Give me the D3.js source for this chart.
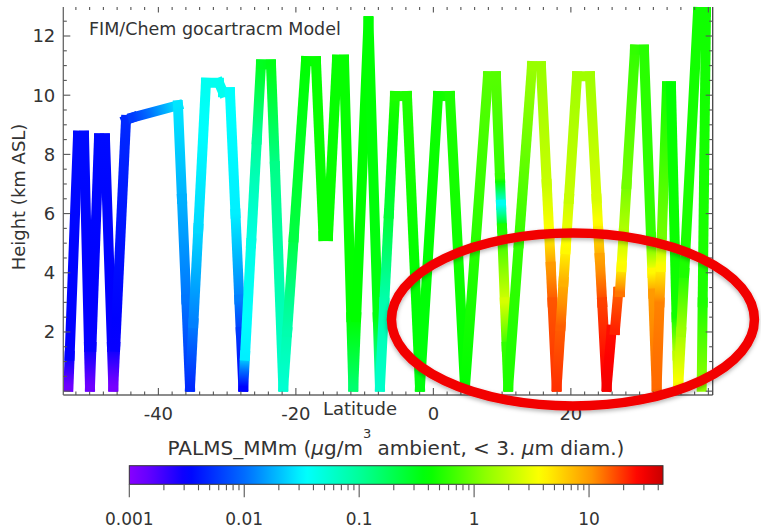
<!DOCTYPE html>
<html>
<head>
<meta charset="utf-8">
<script src="https://cdn.jsdelivr.net/npm/d3@7"></script>
<style>
  html, body { margin: 0; padding: 0; background: #fff; }
  svg { display: block; font-family: "DejaVu Sans", sans-serif; }
</style>
</head>
<body>
<svg id="chart" width="761" height="528"></svg>
<script>
// Flight-track samples: latitude (deg N), altitude (km ASL), modelled PALMS_MMm mass (µg/m3)
const latitude = [
  -53.08, -52.91, -51.69, -50.82, -50.09, -49.95, -49.74, -48.64, -47.77, -46.75,
  -46.56, -46.28, -44.71, -43.69, -37.15, -36.57, -35.94, -35.40, -34.91, -34.19,
  -33.08, -31.19, -30.60, -29.59, -28.79, -28.23, -28.01, -27.65, -27.40, -26.51,
  -25.68, -25.08, -23.62, -23.05, -21.83, -21.27, -20.31, -18.53, -17.08, -15.99,
  -15.33, -14.02, -13.00, -11.94, -11.65, -11.23, -9.44, -8.09, -7.77, -7.14,
  -6.47, -5.59, -3.84, -1.95, 0.67, 2.41, 4.60, 7.94, 9.10, 9.69,
  9.84, 9.99, 10.40, 10.66, 10.89, 12.43, 14.34, 15.65, 16.49, 16.85,
  17.08, 17.33, 17.93, 18.51, 18.93, 19.24, 19.72, 20.89, 22.78, 23.74,
  23.99, 24.20, 24.55, 25.21, 25.93, 26.41, 26.89, 27.14, 27.37, 27.69,
  28.11, 29.32, 30.63, 31.66, 31.85, 31.97, 32.48, 32.90, 33.08, 33.24,
  33.98, 34.56, 35.37, 35.51, 35.62, 36.04, 36.49, 38.49, 39.65, 39.17,
  39.03
];
const altitude = [
  0.15, 1.2, 8.63, 8.63, 1.5, 0.15, 1.5, 8.54, 8.54, 1.5,
  0.15, 1.5, 9.16, 9.25, 9.66, 6.5, 3.1, 0.15, 2.3, 5.5,
  10.42, 10.42, 10.10, 10.10, 6.0, 3.1, 2.0, 0.15, 1.2, 5.0,
  8.5, 11.04, 11.04, 7.6, 0.15, 2.0, 5.2, 11.15, 11.15, 5.24,
  5.24, 11.2, 11.2, 2.5, 0.15, 2.5, 12.5, 2.5, 0.15, 3.0,
  6.0, 9.97, 9.97, 0.15, 9.97, 9.97, 0.15, 10.64, 10.64, 7.2,
  6.3, 5.5, 3.0, 1.5, 0.15, 5.0, 10.98, 10.98, 7.0, 5.3,
  4.2, 3.0, 0.15, 2.2, 3.7, 4.8, 6.5, 10.64, 10.64, 6.5,
  5.4, 4.5, 3.0, 0.15, 2.07, 2.07, 3.35, 3.35, 4.2, 5.4,
  7.0, 11.54, 11.54, 5.2, 4.0, 3.3, 0.15, 3.0, 4.2, 5.3,
  10.3, 10.3, 2.5, 1.2, 0.15, 2.0, 4.0, 12.81, 12.81, 3.0,
  0.15
];
const massConc = [
  0.0013, 0.0032, 0.0036, 0.0036, 0.0031, 0.0013, 0.0031, 0.0036, 0.0036, 0.0031,
  0.0012, 0.0031, 0.0050, 0.0060, 0.028, 0.018, 0.011, 0.005, 0.012, 0.025,
  0.040, 0.040, 0.040, 0.035, 0.030, 0.012, 0.006, 0.0033, 0.030, 0.045,
  0.10, 0.30, 0.33, 0.12, 0.055, 0.08, 0.22, 0.40, 0.42, 0.42,
  0.42, 0.42, 0.42, 0.40, 0.15, 0.40, 0.40, 0.35, 0.06, 0.08,
  0.25, 0.50, 0.50, 0.35, 0.45, 0.50, 0.40, 0.80, 0.80, 0.60,
  0.04, 0.50, 2.5, 0.60, 0.50, 0.60, 1.4, 1.4, 2.2, 4.0,
  10, 16, 20, 15, 8, 4, 2.2, 1.5, 1.5, 2.5,
  4.5, 9, 18, 30, 25, 22, 15, 13, 4, 1.8,
  1.0, 0.6, 0.55, 0.6, 4, 10, 14, 12, 4, 1.0,
  0.45, 0.40, 0.45, 2.0, 4.0, 1.5, 0.5, 0.45, 0.45, 0.5,
  1.3
];

// Axis ticks and colour-bar ticks
const latTicks = [-40, -20, 0, 20];
const latMinorTicks = d3.range(-52, 41, 2);
const heightTicks = [2, 4, 6, 8, 10, 12];
const heightMinorTicks = d3.range(0, 13, 0.5);
const barTicks = [0.001, 0.01, 0.1, 1, 10];
const barTickLabels = ["0.001", "0.01", "0.1", "1", "10"];
const barRange = [0.001, 44];

// Rainbow colour table (position along the log scale -> colour)
const rampPos = [0, 0.04, 0.11, 0.22, 0.33, 0.44, 0.56, 0.67, 0.77, 0.87, 0.955, 1];
const rampCol = ["#8800ff", "#6000ff", "#0000ff", "#0070ff", "#00ffff", "#00ff90",
                 "#00ff00", "#90ff00", "#ffff00", "#ff9000", "#ff0000", "#c80000"];

// Highlight ellipse around the lower-tropospheric maximum (lat, km)
const highlightCenter = [20.3, 2.42];
const highlightRadius = [26.4, 2.92];

const svg = d3.select("#chart");
const defs = svg.append("defs");

const x = d3.scaleLinear().domain([-53.83, 40.63]).range([63.3, 712.7]);
const y = d3.scaleLinear().domain([-0.13, 12.98]).range([395, 7]);

const ramp = d3.scaleLinear().domain(rampPos).range(rampCol).clamp(true);
const logT = d3.scaleLog().domain(barRange).range([0, 1]).clamp(true);
const colorOf = v => ramp(logT(v));

// ---- flight track, each segment shaded between its end values ----
const pts = latitude.map((d, i) => ({ px: x(d), py: y(altitude[i]), c: massConc[i] }));
const track = svg.append("g")
  .attr("fill", "none")
  .attr("stroke-width", 10)
  .attr("stroke-linecap", "square");

for (let i = 0; i < pts.length - 1; i++) {
  const a = pts[i], b = pts[i + 1];
  const id = "seg" + i;
  const grad = defs.append("linearGradient")
    .attr("id", id)
    .attr("gradientUnits", "userSpaceOnUse")
    .attr("x1", a.px).attr("y1", a.py)
    .attr("x2", b.px).attr("y2", b.py);
  const la = Math.log10(a.c), lb = Math.log10(b.c);
  d3.range(9).forEach(k => {
    const f = k / 8;
    grad.append("stop")
      .attr("offset", f)
      .attr("stop-color", colorOf(Math.pow(10, la + (lb - la) * f)));
  });
  track.append("line")
    .attr("x1", a.px).attr("y1", a.py)
    .attr("x2", b.px).attr("y2", b.py)
    .attr("stroke", `url(#${id})`);
}

// ---- axes ----
const axisColor = "#555";
const textColor = "#333";
const [x0, x1] = x.range();
const [yb, yt] = y.range();

const frame = svg.append("g").attr("stroke", "#666").attr("stroke-width", 1.3);
frame.append("line").attr("x1", x0).attr("x2", x0).attr("y1", yt).attr("y2", yb);
frame.append("line").attr("x1", x0).attr("x2", x1).attr("y1", yb).attr("y2", yb);
frame.append("line").attr("x1", x1).attr("x2", x1).attr("y1", yt).attr("y2", yb).attr("stroke", "#444");

const ticks = svg.append("g").attr("stroke", axisColor).attr("stroke-width", 1.1);
// left and right height ticks, pointing inward
heightMinorTicks.forEach(h => {
  const major = Number.isInteger(h) && h % 2 === 0;
  const len = major ? 7 : 3.5;
  ticks.append("line").attr("x1", x0).attr("x2", x0 + len).attr("y1", y(h)).attr("y2", y(h));
  ticks.append("line").attr("x1", x1).attr("x2", x1 - len).attr("y1", y(h)).attr("y2", y(h));
});
// bottom and top latitude ticks
latMinorTicks.forEach(l => {
  const major = l % 20 === 0;
  ticks.append("line").attr("x1", x(l)).attr("x2", x(l)).attr("y1", yb).attr("y2", yb - (major ? 7 : 3.5));
  ticks.append("line").attr("x1", x(l)).attr("x2", x(l)).attr("y1", yt).attr("y2", yt + (major ? 5.5 : 3));
});

const labels = svg.append("g").attr("fill", textColor).attr("font-size", 18);
heightTicks.forEach(h => {
  labels.append("text")
    .attr("x", x0 - 8).attr("y", y(h)).attr("dy", "0.36em")
    .attr("text-anchor", "end").text(h);
});
latTicks.forEach(l => {
  labels.append("text")
    .attr("x", x(l)).attr("y", 420)
    .attr("text-anchor", "middle").text(l);
});
labels.append("text")
  .attr("x", 360).attr("y", 415)
  .attr("text-anchor", "middle").text("Latitude");
labels.append("text")
  .attr("transform", "translate(25,197) rotate(-90)")
  .attr("text-anchor", "middle").text("Height (km ASL)");
svg.append("text")
  .attr("x", 89).attr("y", 35)
  .attr("font-size", 17.5).attr("fill", textColor)
  .text("FIM/Chem gocartracm Model");

// ---- colour bar ----
const cb = d3.scaleLog().domain(barRange).range([129.3, 663]);
const barTop = 465.7, barH = 18.6;
const cbGrad = defs.append("linearGradient").attr("id", "cbar")
  .attr("x1", 0).attr("x2", 1).attr("y1", 0).attr("y2", 0);
d3.range(61).forEach(k => {
  const f = k / 60;
  cbGrad.append("stop").attr("offset", f).attr("stop-color", ramp(f));
});
svg.append("rect")
  .attr("x", cb.range()[0]).attr("y", barTop)
  .attr("width", cb.range()[1] - cb.range()[0]).attr("height", barH)
  .attr("fill", "url(#cbar)")
  .attr("stroke", "#333").attr("stroke-width", 1);

const cbTicks = svg.append("g").attr("stroke", axisColor).attr("stroke-width", 1.1);
barTicks.forEach(d => {
  cbTicks.append("line").attr("x1", cb(d)).attr("x2", cb(d))
    .attr("y1", barTop + barH).attr("y2", barTop + barH + 13);
  d3.range(2, 10).forEach(k => {
    const v = d * k;
    if (v <= barRange[1]) {
      cbTicks.append("line").attr("x1", cb(v)).attr("x2", cb(v))
        .attr("y1", barTop + barH).attr("y2", barTop + barH + 6);
    }
  });
});
barTicks.forEach((d, i) => {
  svg.append("text")
    .attr("x", cb(d)).attr("y", 525)
    .attr("text-anchor", "middle")
    .attr("font-size", 17).attr("fill", textColor)
    .text(barTickLabels[i]);
});

const cbTitle = svg.append("text")
  .attr("x", 396).attr("y", 455)
  .attr("text-anchor", "middle")
  .attr("font-size", 20).attr("fill", textColor);
cbTitle.append("tspan").text("PALMS_MMm (");
cbTitle.append("tspan").attr("font-style", "italic").text("\u03bc");
cbTitle.append("tspan").text("g/m");
cbTitle.append("tspan").attr("dy", -17).attr("font-size", 13).text("3");
cbTitle.append("tspan").attr("dy", 17).text(" ambient, < 3. ");
cbTitle.append("tspan").attr("font-style", "italic").text("\u03bc");
cbTitle.append("tspan").text("m diam.)");

// ---- highlight ellipse ----
const shadow = defs.append("filter").attr("id", "soft")
  .attr("x", "-10%").attr("y", "-10%").attr("width", "120%").attr("height", "130%");
shadow.append("feDropShadow")
  .attr("dx", 0).attr("dy", 2).attr("stdDeviation", 2)
  .attr("flood-color", "#000").attr("flood-opacity", 0.3);
const cx = x(highlightCenter[0]), cy = y(highlightCenter[1]);
svg.append("ellipse")
  .attr("cx", cx).attr("cy", cy)
  .attr("rx", x(highlightCenter[0] + highlightRadius[0]) - cx)
  .attr("ry", cy - y(highlightCenter[1] + highlightRadius[1]))
  .attr("fill", "none")
  .attr("stroke", "#f20000")
  .attr("stroke-width", 9.5)
  .attr("filter", "url(#soft)");
</script>
</body>
</html>
